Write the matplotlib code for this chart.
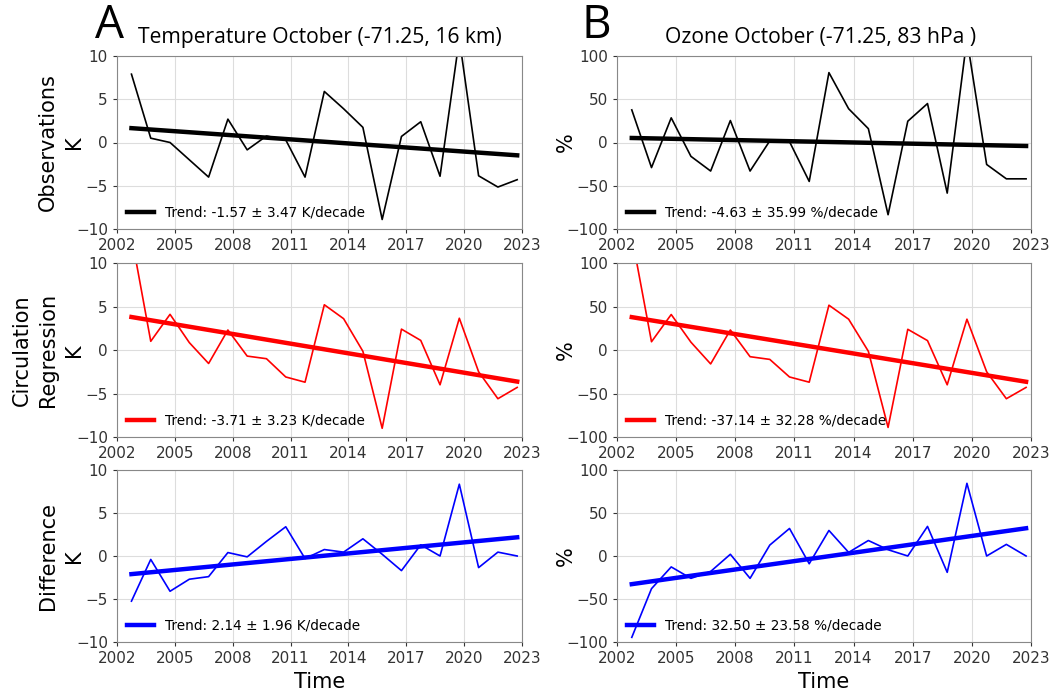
import numpy as np
import matplotlib.pyplot as plt

years = np.arange(2002, 2023)

# October anomalies, temperature at 16 km (K)
temp_obs = [7.9, 0.5, 0.0, -2.0, -4.0, 2.7, -0.85, 0.75, 0.3, -4.0, 5.9,
            3.9, 1.75, -8.9, 0.7, 2.4, -3.9, 12.0, -3.85, -5.15, -4.3]
temp_circ = [13.1, 1.0, 4.1, 0.85, -1.55, 2.3, -0.7, -1.0, -3.1, -3.7, 5.2,
             3.6, -0.15, -9.0, 2.4, 1.1, -4.0, 3.65, -2.5, -5.6, -4.3]
temp_diff = [-5.25, -0.4, -4.1, -2.7, -2.4, 0.4, -0.1, 1.7, 3.4, -0.3, 0.75,
             0.45, 2.0, 0.2, -1.7, 1.3, 0.0, 8.35, -1.35, 0.45, 0.0]

# October anomalies, ozone at 83 hPa (%)
o3_obs = [37.7, -29.0, 28.5, -16.0, -33.0, 25.4, -33.0, 1.9, 1.0, -45.0, 80.8,
          39.0, 16.0, -83.5, 24.6, 45.0, -58.5, 120.0, -25.4, -42.0, -42.0]
o3_circ = [131.0, 9.5, 40.8, 9.0, -16.0, 23.0, -7.7, -10.8, -31.0, -37.0, 51.5,
           35.4, -1.5, -89.0, 23.8, 10.8, -40.0, 35.4, -25.0, -56.0, -43.0]
o3_diff = [-94.6, -38.0, -12.7, -26.0, -18.0, 2.0, -26.0, 12.7, 32.0, -9.0, 29.7,
           4.2, 18.0, 7.3, 0.0, 34.4, -19.0, 84.5, 0.0, 13.5, 0.0]

# trend (per decade) and 2-sigma uncertainty
temp_trends = [(-1.57, 3.47), (-3.71, 3.23), (2.14, 1.96)]
o3_trends = [(-4.63, 35.99), (-37.14, 32.28), (32.50, 23.58)]

row_names = ['Observations', 'Circulation\nRegression', 'Difference']
colors = ['black', 'red', 'blue']
xticks = [2002, 2005, 2008, 2011, 2014, 2017, 2020, 2023]

t = years + 9 / 12.0

fig = plt.figure(figsize=(10.56, 6.94), dpi=100)

left_x = [117 / 1056, 617 / 1056]
width = [405 / 1056, 414 / 1056]
rows_y = [(56, 229), (263, 437), (470, 642)]


def panel(ax, y, color, trend, unit, lim):
    ax.plot(t, y, color=color, lw=1.2)
    slope = trend[0] / 10.0
    xm, ym = t.mean(), np.mean(y)
    fit = ym + slope * (t - xm)
    ax.plot(t, fit, color=color, lw=3.2,
            label='Trend: %.2f \u00b1 %.2f %s/decade' % (trend[0], trend[1], unit))
    ax.set_xlim(2002, 2023)
    ax.set_ylim(-lim, lim)
    ax.set_xticks(xticks)
    ax.set_yticks(np.linspace(-lim, lim, 5))
    ax.grid(color='#dddddd', lw=0.8)
    ax.set_axisbelow(True)
    ax.tick_params(labelsize=11, colors='#333333', length=3)
    for s in ax.spines.values():
        s.set_color('#888888')
    ax.legend(loc='lower left', frameon=False, fontsize=9.8,
              handlelength=2.0, borderaxespad=0.3)


temp_sets = [temp_obs, temp_circ, temp_diff]
o3_sets = [o3_obs, o3_circ, o3_diff]

for i in range(3):
    top, bot = rows_y[i]
    h = (bot - top) / 694
    y0 = 1 - bot / 694
    ax1 = fig.add_axes([left_x[0], y0, width[0], h])
    panel(ax1, temp_sets[i], colors[i], temp_trends[i], 'K', 10)
    ax1.set_ylabel(row_names[i] + '\nK', fontsize=15, linespacing=1.4,
                   labelpad=-6)
    ax2 = fig.add_axes([left_x[1], y0, width[1], h])
    panel(ax2, o3_sets[i], colors[i], o3_trends[i], '%', 100)
    ax2.set_ylabel('%', fontsize=15, labelpad=-7)
    if i == 2:
        ax1.set_xlabel('Time', fontsize=15)
        ax2.set_xlabel('Time', fontsize=15)

fig.text(95 / 1056, 1 - 38 / 694, 'A', fontsize=33, family='Open Sans',
         va='baseline')
fig.text(138 / 1056, 1 - 43 / 694, 'Temperature October (-71.25, 16 km)',
         fontsize=15.2, family='Open Sans', va='baseline')
fig.text(581 / 1056, 1 - 38 / 694, 'B', fontsize=33, family='Open Sans',
         va='baseline')
fig.text(821 / 1056, 1 - 43 / 694, 'Ozone October (-71.25, 83 hPa )',
         fontsize=15.2, family='Open Sans', va='baseline', ha='center')

fig.savefig('out.png', dpi=100)
